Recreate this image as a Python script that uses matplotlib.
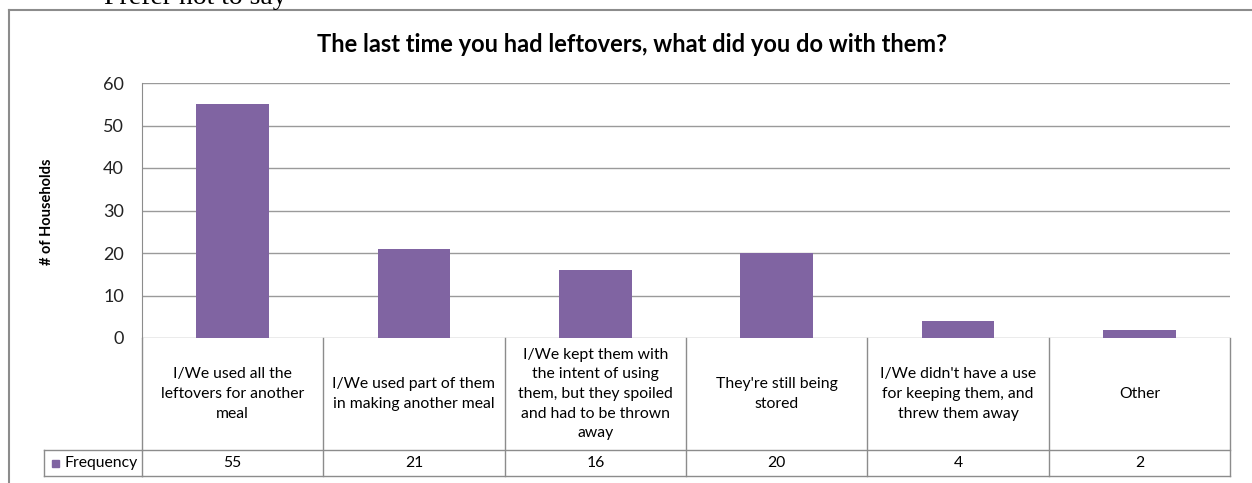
import matplotlib
matplotlib.use('Agg')
import matplotlib.pyplot as plt
import matplotlib.transforms as mtransforms
from matplotlib.lines import Line2D
from matplotlib.patches import Rectangle

categories = [
    "I/We used all the\nleftovers for another\nmeal",
    "I/We used part of them\nin making another meal",
    "I/We kept them with\nthe intent of using\nthem, but they spoiled\nand had to be thrown\naway",
    "They're still being\nstored",
    "I/We didn't have a use\nfor keeping them, and\nthrew them away",
    "Other",
]
frequency = [55, 21, 16, 20, 4, 2]
series_name = "Frequency"
title = "The last time you had leftovers, what did you do with them?"
ylabel = "# of Households"
yticks = [0, 10, 20, 30, 40, 50, 60]

W, H = 1252, 483
BAR = '#8064A2'
GRID = '#9A9A9A'
EDGE = '#8C8C8C'
FONT = 'Lato'

def fx(px):
    return px / W

def fy(py):
    return 1 - py / H

fig = plt.figure(figsize=(W / 100, H / 100), dpi=100)
fig.patch.set_facecolor('white')

# plot area
ax = fig.add_axes([fx(142), fy(338), fx(1230) - fx(142), fy(83) - fy(338)])
x = range(len(categories))
ax.bar(x, frequency, width=0.4, color=BAR, zorder=3)
ax.set_xlim(-0.5, len(categories) - 0.5)
ax.set_ylim(0, 60)
ax.set_yticks(yticks)
ax.set_yticklabels([str(t) for t in yticks], fontsize=13, family=FONT, color='#222222')
ax.set_xticks([])
ax.tick_params(axis='y', length=0, pad=13)
ax.grid(axis='y', color=GRID, linewidth=1, zorder=0)
for s in ['top', 'right', 'bottom']:
    ax.spines[s].set_visible(False)
ax.spines['left'].set_color(EDGE)

fig.text(fx(47), fy(212), ylabel, rotation=90, ha='center', va='center',
         fontsize=10.5, family=FONT, fontweight='bold')

fig.text(fx(632), fy(44), title, ha='center', va='center', fontsize=17,
         fontweight='bold', family=FONT)

# chart border (cut off at right/bottom)
fig.add_artist(Line2D([fx(9), fx(1252)], [fy(10), fy(10)], color=EDGE, lw=1.5))
fig.add_artist(Line2D([fx(9), fx(9)], [fy(10), fy(483)], color=EDGE, lw=1.5))

# cropped text from the page above
fig.text(fx(104), fy(4), "Prefer not to say", ha='left', va='baseline',
         fontsize=20, family='Liberation Serif')

# data table under the axis
tr = mtransforms.blended_transform_factory(ax.transData, fig.transFigure)
y0, y1, y2 = fy(338), fy(450), fy(476)
n = len(categories)
lc = dict(color=EDGE, lw=1)
for i in range(n + 1):
    fig.add_artist(Line2D([i - 0.5, i - 0.5], [y0, y2], transform=tr, **lc))
fig.add_artist(Line2D([-0.5, n - 0.5], [y1, y1], transform=tr, **lc))
fig.add_artist(Line2D([-0.5, n - 0.5], [y2, y2], transform=tr, **lc))
# series label cell
fig.add_artist(Line2D([fx(44), fx(142)], [y1, y1], **lc))
fig.add_artist(Line2D([fx(44), fx(142)], [y2, y2], **lc))
fig.add_artist(Line2D([fx(44), fx(44)], [y1, y2], **lc))
fig.add_artist(Rectangle((fx(52), fy(467)), fx(7), fy(460) - fy(467), color=BAR))
fig.text(fx(64), (y1 + y2) / 2, series_name, ha='left', va='center', fontsize=11.3, family=FONT)

for i, (c, v) in enumerate(zip(categories, frequency)):
    fig.text(i, (y0 + y1) / 2, c, transform=tr, ha='center', va='center',
             fontsize=11.3, family=FONT, linespacing=1.52)
    fig.text(i, (y1 + y2) / 2, str(v), transform=tr, ha='center', va='center',
             fontsize=11.3, family=FONT)

fig.savefig('out.png', dpi=100)
